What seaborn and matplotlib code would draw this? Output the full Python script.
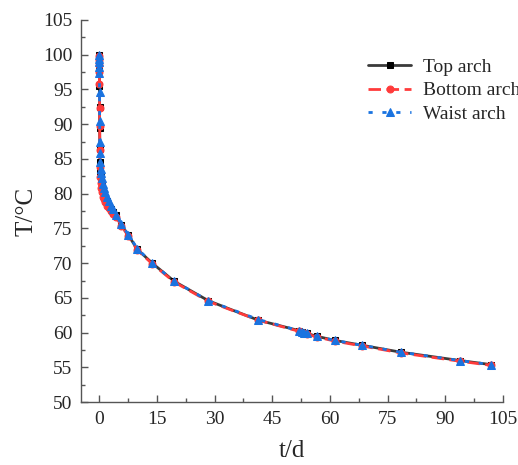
import matplotlib
matplotlib.use("Agg")
import matplotlib.pyplot as plt
from matplotlib.ticker import MultipleLocator, AutoMinorLocator
import seaborn as sns
import pandas as pd

# time since casting (days)
t_days = [0, 0.01, 0.02, 0.03, 0.05, 0.07, 0.1, 0.15, 0.2, 0.3, 0.4, 0.5, 0.7,
          1.0, 1.3, 1.6, 2.0, 2.5, 3.0, 3.5, 4.4, 5.7, 7.6, 9.9, 13.8, 19.5,
          28.4, 41.4, 52.0, 52.6, 53.3, 54.0, 56.5, 61.2, 68.3, 78.4, 93.8, 102.0]

top_arch = [100.0, 99.5, 98.9, 97.8, 95.5, 92.5, 89.5, 86.5, 84.5, 83.2, 82.5,
            82.0, 81.3, 80.6, 80.0, 79.5, 78.9, 78.3, 77.8, 77.4, 76.9, 75.5,
            74.0, 72.0, 70.0, 67.4, 64.6, 61.8, 60.3, 60.1, 60.0, 59.9, 59.5,
            58.9, 58.2, 57.2, 56.0, 55.4]

bottom_arch = [99.8, 99.2, 98.5, 97.5, 95.8, 92.4, 89.8, 86.3, 83.8, 82.4, 81.5,
               80.8, 80.2, 79.6, 79.2, 78.8, 78.3, 77.9, 77.5, 77.1, 76.7, 75.4,
               73.9, 71.9, 69.9, 67.3, 64.5, 61.8, 60.2, 60.0, 59.9, 59.8, 59.4,
               58.8, 58.1, 57.1, 55.9, 55.3]

waist_arch = [99.9, 99.4, 98.9, 98.3, 97.4, 94.7, 90.5, 87.4, 85.8, 84.5, 83.6,
              83.0, 82.2, 81.4, 80.8, 80.2, 79.5, 78.9, 78.3, 77.8, 77.0, 75.6,
              74.1, 72.1, 70.0, 67.4, 64.6, 61.9, 60.3, 60.1, 60.0, 59.9, 59.5,
              58.9, 58.2, 57.2, 56.0, 55.4]

series_names = ["Top arch", "Bottom arch", "Waist arch"]

sns.set_style("ticks")
plt.rcParams["font.family"] = ["Liberation Serif", "DejaVu Serif"]

fig = plt.figure(figsize=(5.18, 4.65), dpi=100)
ax = fig.add_axes([0.156, 0.135, 0.815, 0.822])

df = pd.DataFrame({"t": t_days, "Top arch": top_arch,
                   "Bottom arch": bottom_arch, "Waist arch": waist_arch})

styles = {
    "Top arch": dict(color="#3a3a3a", marker="s", markersize=4.5,
                     markerfacecolor="black", markeredgecolor="black",
                     linestyle="-", linewidth=2.0),
    "Bottom arch": dict(color="#ff3b3b", marker="o", markersize=5,
                        markerfacecolor="#ff3b3b", markeredgecolor="#ff3b3b",
                        dashes=(4.5, 2.0), linewidth=2.0),
    "Waist arch": dict(color="#1a73e0", marker="^", markersize=6,
                       markerfacecolor="#1a73e0", markeredgecolor="#1a73e0",
                       dashes=(1.5, 3.5), linewidth=2.0),
}

for name in series_names:
    sns.lineplot(data=df, x="t", y=name, ax=ax, estimator=None, sort=False,
                 label=name, **styles[name])

ax.set_xlim(-4.8, 105)
ax.set_ylim(50, 105)
ax.xaxis.set_major_locator(MultipleLocator(15))
ax.xaxis.set_minor_locator(AutoMinorLocator(2))
ax.yaxis.set_major_locator(MultipleLocator(5))
ax.yaxis.set_minor_locator(AutoMinorLocator(2))
ax.tick_params(axis="both", which="major", direction="in", length=5,
               width=1, labelsize=14, color="#555555", pad=6)
ax.tick_params(axis="both", which="minor", direction="in", length=3,
               width=1, color="#555555")
for side in ["top", "right"]:
    ax.spines[side].set_visible(False)
for side in ["left", "bottom"]:
    ax.spines[side].set_color("#555555")
    ax.spines[side].set_linewidth(1)

ax.set_xlabel("t/d", fontsize=18, labelpad=9)
ax.set_ylabel("T/°C", fontsize=18, labelpad=4)

# legend sits near the right edge; the longest label runs past the figure
ax.legend(loc="upper left", bbox_to_anchor=(0.663, 0.92), frameon=False,
          fontsize=14, handlelength=2.2, handletextpad=0.6,
          labelspacing=0.3, borderaxespad=0)

fig.savefig("out.png", dpi=100)
